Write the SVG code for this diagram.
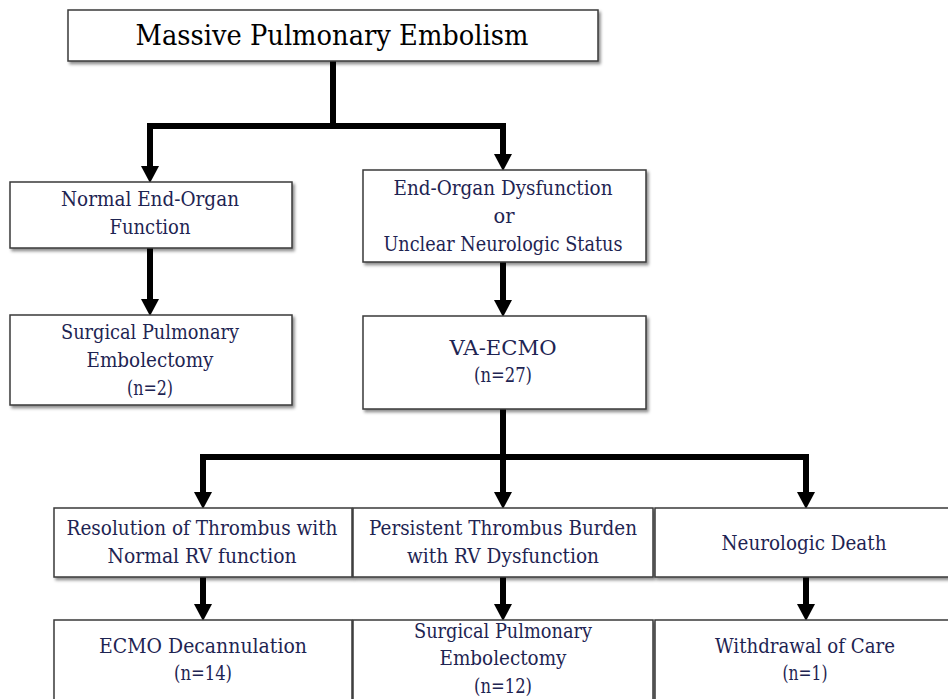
<svg xmlns="http://www.w3.org/2000/svg" width="948" height="699" viewBox="0 0 948 699">
<defs>
<filter id="sh" x="-5%" y="-10%" width="115%" height="130%">
<feDropShadow dx="2" dy="2.5" stdDeviation="1.8" flood-color="#000" flood-opacity="0.45"/>
</filter>
<marker id="ah" viewBox="0 0 17 18" refX="0" refY="9" markerWidth="17" markerHeight="18" markerUnits="userSpaceOnUse" orient="auto">
<path d="M0,0 L17,9 L0,18 Z" fill="#000"/>
</marker>
<style>
.box{fill:#fff;stroke:#3a3a3a;stroke-width:1.5;filter:url(#sh)}
.t{font-family:'DejaVu Serif',serif;font-size:20px;fill:#1e2452;text-anchor:middle}
.title{font-family:'DejaVu Serif',serif;font-size:28px;fill:#000;text-anchor:middle}
.c{fill:none;stroke:#000;stroke-width:6;stroke-linejoin:miter;marker-end:url(#ah)}
</style>
</defs>
<rect width="948" height="699" fill="#fff"/>
<g id="connectors">
<path class="c" d="M333,61 V126 H150 V166"/>
<path class="c" d="M333,126 H503 V154"/>
<path class="c" d="M150,248 V299"/>
<path class="c" d="M503,262 V300"/>
<path class="c" d="M503,409 V457 H203 V492"/>
<path class="c" d="M503,457 V492"/>
<path class="c" d="M503,457 H806 V492"/>
<path class="c" d="M203,577 V604"/>
<path class="c" d="M503,577 V604"/>
<path class="c" d="M806,577 V604"/>
</g>
<g id="n-massive">
<rect class="box" x="68" y="10" width="530" height="51"/>
<text class="title" x="332" y="45" textLength="393" lengthAdjust="spacingAndGlyphs">Massive Pulmonary Embolism</text>
</g>
<g id="n-normal">
<rect class="box" x="10" y="182" width="282" height="66"/>
<text class="t" x="150" y="206" textLength="178" lengthAdjust="spacingAndGlyphs">Normal End-Organ</text>
<text class="t" x="150" y="234" textLength="81" lengthAdjust="spacingAndGlyphs">Function</text>
</g>
<g id="n-dysfunction">
<rect class="box" x="363" y="170" width="283" height="92"/>
<text class="t" x="503" y="195" textLength="219" lengthAdjust="spacingAndGlyphs">End-Organ Dysfunction</text>
<text class="t" x="504" y="223" textLength="21" lengthAdjust="spacingAndGlyphs">or</text>
<text class="t" x="503" y="251" textLength="239" lengthAdjust="spacingAndGlyphs">Unclear Neurologic Status</text>
</g>
<g id="n-surgical1">
<rect class="box" x="10" y="315" width="282" height="90"/>
<text class="t" x="150" y="339" textLength="178" lengthAdjust="spacingAndGlyphs">Surgical Pulmonary</text>
<text class="t" x="150" y="367" textLength="127" lengthAdjust="spacingAndGlyphs">Embolectomy</text>
<text class="t" x="150" y="395" textLength="46" lengthAdjust="spacingAndGlyphs">(n=2)</text>
</g>
<g id="n-vaecmo">
<rect class="box" x="363" y="316" width="283" height="93"/>
<text class="t" x="503" y="355" textLength="107" lengthAdjust="spacingAndGlyphs">VA-ECMO</text>
<text class="t" x="503" y="382" textLength="58" lengthAdjust="spacingAndGlyphs">(n=27)</text>
</g>
<g id="n-resolution">
<rect class="box" x="54" y="508" width="298" height="69"/>
<text class="t" x="202" y="535" textLength="271" lengthAdjust="spacingAndGlyphs">Resolution of Thrombus with</text>
<text class="t" x="202" y="563" textLength="189" lengthAdjust="spacingAndGlyphs">Normal RV function</text>
</g>
<g id="n-persistent">
<rect class="box" x="353" y="508" width="300" height="69"/>
<text class="t" x="503" y="535" textLength="268" lengthAdjust="spacingAndGlyphs">Persistent Thrombus Burden</text>
<text class="t" x="503" y="563" textLength="192" lengthAdjust="spacingAndGlyphs">with RV Dysfunction</text>
</g>
<g id="n-neuro">
<rect class="box" x="655" y="508" width="300" height="69"/>
<text class="t" x="804" y="550" textLength="165" lengthAdjust="spacingAndGlyphs">Neurologic Death</text>
</g>
<g id="n-decannulation">
<rect class="box" x="54" y="620" width="298" height="90"/>
<text class="t" x="203" y="653" textLength="208" lengthAdjust="spacingAndGlyphs">ECMO Decannulation</text>
<text class="t" x="203" y="680" textLength="58" lengthAdjust="spacingAndGlyphs">(n=14)</text>
</g>
<g id="n-surgical2">
<rect class="box" x="353" y="620" width="300" height="90"/>
<text class="t" x="503" y="638" textLength="178" lengthAdjust="spacingAndGlyphs">Surgical Pulmonary</text>
<text class="t" x="503" y="665" textLength="127" lengthAdjust="spacingAndGlyphs">Embolectomy</text>
<text class="t" x="503" y="693" textLength="58" lengthAdjust="spacingAndGlyphs">(n=12)</text>
</g>
<g id="n-withdrawal">
<rect class="box" x="655" y="620" width="300" height="90"/>
<text class="t" x="805" y="653" textLength="180" lengthAdjust="spacingAndGlyphs">Withdrawal of Care</text>
<text class="t" x="805" y="680" textLength="45" lengthAdjust="spacingAndGlyphs">(n=1)</text>
</g>
</svg>
